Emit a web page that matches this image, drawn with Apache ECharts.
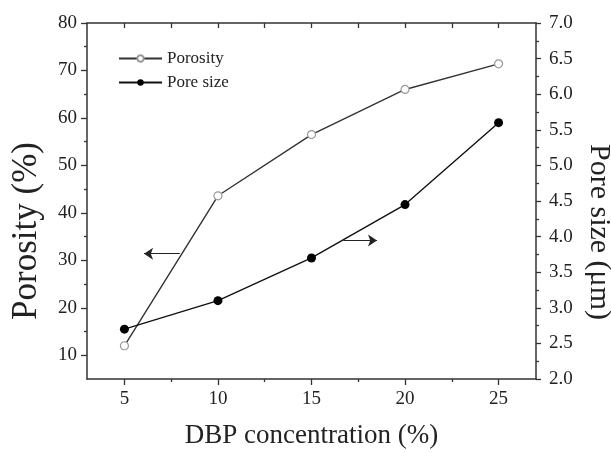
<!DOCTYPE html>
<html lang="en">
  <head>
    <meta charset="UTF-8" />
    <title>Porosity and pore size vs DBP concentration</title>
    <style>
      html, body { margin: 0; padding: 0; background: #fff; }
      #main { width: 611px; height: 453px; }
    </style>
  </head>
  <body>
    <div id="main"></div>
    <script src="https://cdn.jsdelivr.net/npm/echarts@6/dist/echarts.min.js"></script>
    <script>
      // data
      const concentration = [5, 10, 15, 20, 25];
      const porosity = [12.0, 43.6, 56.5, 66.0, 71.4];
      const poreSize = [2.7, 3.1, 3.7, 4.45, 5.6];

      // tick values
      const xMajor = [5, 10, 15, 20, 25];
      const xMinor = [7.5, 12.5, 17.5, 22.5];
      const xAll = [5, 7.5, 10, 12.5, 15, 17.5, 20, 22.5, 25];
      const yMajor = [10, 20, 30, 40, 50, 60, 70, 80];
      const yMinor = [15, 25, 35, 45, 55, 65, 75];

      // arrows pointing at the axes (in data units)
      const arrowLeft = [[7.96, 31.4], [6.05, 31.4]];
      const arrowRight = [[16.7, 3.945], [18.5, 3.945]];

      const font = "Liberation Serif";
      const ink = "#222";
      const axisColor = "#333";

      const myChart = echarts.init(document.getElementById("main"));

      const pair = (xs, ys) => xs.map((x, i) => [x, ys[i]]);

      const option = {
        animation: false,
        grid: { left: 87, right: 75, top: 23, bottom: 74, outerBoundsMode: "none" },
        legend: {
          orient: "vertical",
          left: 113,
          top: 45,
          itemWidth: 43,
          itemHeight: 8,
          itemGap: 7,
          textStyle: { fontFamily: font, fontSize: 17, color: ink },
          data: ["Porosity", "Pore size"],
        },
        xAxis: [
          {
            type: "value",
            position: "bottom",
            min: 3,
            max: 27,
            axisLine: { onZero: false, lineStyle: { color: axisColor, width: 1.5 } },
            axisTick: { customValues: xMajor, length: 6, lineStyle: { color: axisColor, width: 1.3 } },
            axisLabel: { customValues: xMajor, margin: 11, fontFamily: font, fontSize: 19, color: ink },
            splitLine: { show: false },
            name: "DBP concentration (%)",
            nameLocation: "middle",
            nameGap: 43,
            nameTextStyle: { fontFamily: font, fontSize: 27, color: ink },
          },
          {
            type: "value",
            position: "bottom",
            min: 3,
            max: 27,
            axisLine: { show: false, onZero: false },
            axisTick: { customValues: xMinor, length: 3, lineStyle: { color: axisColor, width: 1.3 } },
            axisLabel: { show: false },
            splitLine: { show: false },
          },
          {
            type: "value",
            position: "top",
            min: 3,
            max: 27,
            axisLine: { onZero: false, lineStyle: { color: axisColor, width: 1.5 } },
            axisTick: { customValues: xAll, inside: true, length: 5, lineStyle: { color: axisColor, width: 1.3 } },
            axisLabel: { show: false },
            splitLine: { show: false },
          },
        ],
        yAxis: [
          {
            type: "value",
            position: "left",
            min: 5,
            max: 80,
            axisLine: { show: true, onZero: false, lineStyle: { color: axisColor, width: 1.5 } },
            axisTick: { show: true, customValues: yMajor, length: 6, lineStyle: { color: axisColor, width: 1.3 } },
            axisLabel: { customValues: yMajor, margin: 10, fontFamily: font, fontSize: 19, color: ink },
            splitLine: { show: false },
            name: "Porosity (%)",
            nameLocation: "middle",
            nameGap: 43,
            nameTextStyle: { fontFamily: font, fontSize: 35, color: ink, padding: [0, 60, 0, 0] },
          },
          {
            type: "value",
            position: "left",
            min: 5,
            max: 80,
            axisLine: { show: false, onZero: false },
            axisTick: { show: true, customValues: yMinor, length: 3, lineStyle: { color: axisColor, width: 1.3 } },
            axisLabel: { show: false },
            splitLine: { show: false },
          },
          {
            type: "value",
            position: "right",
            min: 2,
            max: 7,
            interval: 0.5,
            axisLine: { show: true, onZero: false, lineStyle: { color: axisColor, width: 1.5 } },
            axisTick: { show: true, length: 5, lineStyle: { color: axisColor, width: 1.3 } },
            minorTick: { show: true, splitNumber: 2, length: 3, lineStyle: { color: axisColor, width: 1.3 } },
            axisLabel: {
              margin: 13,
              fontFamily: font,
              fontSize: 19,
              color: ink,
              formatter: (v) => v.toFixed(1),
            },
            splitLine: { show: false },
            name: "Pore size (\u03bcm)",
            nameLocation: "middle",
            nameRotate: -90,
            nameGap: 46,
            nameTextStyle: { fontFamily: font, fontSize: 30, color: ink, padding: [0, 0, 0, 62] },
          },
        ],
        series: [
          {
            name: "Porosity",
            type: "line",
            xAxisIndex: 0,
            yAxisIndex: 0,
            data: pair(concentration, porosity),
            symbol: "circle",
            symbolSize: 8,
            lineStyle: { color: "#333", width: 1.4 },
            itemStyle: { color: "#fff", borderColor: "#999", borderWidth: 1.2 },
            markLine: {
              silent: true,
              symbol: ["none", "arrow"],
              symbolSize: 9,
              label: { show: false },
              lineStyle: { color: "#222", width: 1, type: "solid" },
              data: [[{ coord: arrowLeft[0] }, { coord: arrowLeft[1] }]],
            },
          },
          {
            name: "Pore size",
            type: "line",
            xAxisIndex: 0,
            yAxisIndex: 2,
            data: pair(concentration, poreSize),
            symbol: "circle",
            symbolSize: 9,
            lineStyle: { color: "#111", width: 1.4 },
            itemStyle: { color: "#000" },
            markLine: {
              silent: true,
              symbol: ["none", "arrow"],
              symbolSize: 9,
              label: { show: false },
              lineStyle: { color: "#222", width: 1, type: "solid" },
              data: [[{ coord: arrowRight[0] }, { coord: arrowRight[1] }]],
            },
          },
        ],
      };

      myChart.setOption(option);
    </script>
  </body>
</html>
